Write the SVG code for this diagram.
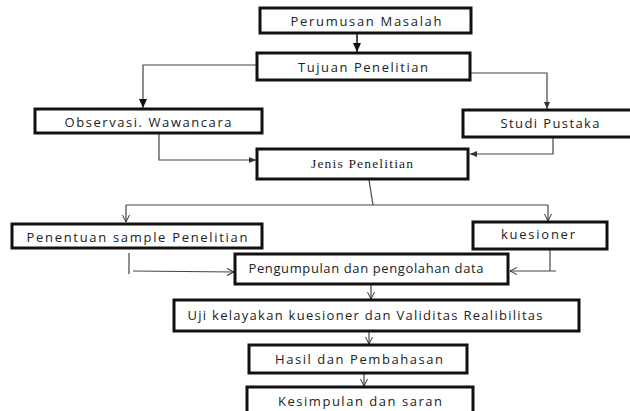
<svg xmlns="http://www.w3.org/2000/svg" width="630" height="411" viewBox="0 0 630 411">
<style>
.box{fill:#fff;stroke:#111;stroke-width:3}
.t{font-family:"Open Sans","Liberation Sans",Arial,sans-serif;font-size:13px;fill:#222;text-anchor:middle;dominant-baseline:central}
.s{font-family:"Liberation Serif","Times New Roman",serif;font-size:13.5px;fill:#222;text-anchor:middle;dominant-baseline:central}
.c{fill:none;stroke:#444;stroke-width:1.2}
</style>
<defs>
<marker id="big" markerUnits="userSpaceOnUse" markerWidth="10" markerHeight="10" refX="9" refY="5" orient="auto">
<path d="M0,1 L9,5 L0,9 Z" fill="#111"/>
</marker>
<marker id="ah" markerUnits="userSpaceOnUse" markerWidth="8" markerHeight="8" refX="7" refY="4" orient="auto">
<path d="M0,1 L7,4 L0,7 Z" fill="#333"/>
</marker>
<marker id="op" markerUnits="userSpaceOnUse" markerWidth="8" markerHeight="8" refX="7" refY="4" orient="auto">
<path d="M0,0.5 L7,4 L0,7.5" fill="none" stroke="#333" stroke-width="1"/>
</marker>
</defs>
<g id="connectors">
<line class="c" x1="357" y1="33" x2="357" y2="52" marker-end="url(#big)" style="stroke:#111;stroke-width:1.5"/>
<polyline class="c" points="257,65 143,65 143,108" marker-end="url(#big)"/>
<polyline class="c" points="471,73 547,73 547,109" marker-end="url(#ah)"/>
<polyline class="c" points="159,134 159,160 256,160" marker-end="url(#ah)"/>
<polyline class="c" points="553,138 553,154 470,154" marker-end="url(#ah)"/>
<line class="c" x1="369" y1="180" x2="373" y2="205"/>
<line class="c" x1="126" y1="205" x2="548" y2="205"/>
<line class="c" x1="126" y1="205" x2="126" y2="222" marker-end="url(#op)"/>
<line class="c" x1="548" y1="205" x2="548" y2="221" marker-end="url(#op)"/>
<line class="c" x1="129" y1="253" x2="129" y2="274"/>
<line class="c" x1="133" y1="271" x2="234" y2="272" marker-end="url(#op)"/>
<line class="c" x1="550" y1="248" x2="550" y2="271"/>
<line class="c" x1="556" y1="271" x2="510" y2="271" marker-end="url(#op)"/>
<line class="c" x1="371" y1="285" x2="371" y2="299" marker-end="url(#op)"/>
<line class="c" x1="369" y1="332" x2="369" y2="344" marker-end="url(#op)"/>
<line class="c" x1="364" y1="374" x2="364" y2="386" marker-end="url(#op)"/>
</g>
<g id="perumusan"><rect class="box" x="260" y="8" width="211" height="25"/><text class="t" x="366" y="21" textLength="151" lengthAdjust="spacing">Perumusan Masalah</text></g>
<g id="tujuan"><rect class="box" x="257" y="53" width="213" height="27"/><text class="t" x="363" y="67" textLength="130" lengthAdjust="spacing">Tujuan Penelitian</text></g>
<g id="observasi"><rect class="box" x="35" y="109" width="227" height="24"/><text class="t" x="148" y="122" textLength="167" lengthAdjust="spacing">Observasi. Wawancara</text></g>
<g id="studi"><rect class="box" x="463" y="110" width="172" height="27"/><text class="t" x="550" y="123" textLength="99" lengthAdjust="spacing">Studi Pustaka</text></g>
<g id="jenis"><rect class="box" x="257" y="149" width="211" height="30"/><text class="s" x="362" y="163" textLength="102" lengthAdjust="spacing">Jenis Penelitian</text></g>
<g id="penentuan"><rect class="box" x="12" y="224" width="250" height="24"/><text class="t" x="137" y="237" textLength="221" lengthAdjust="spacing">Penentuan sample Penelitian</text></g>
<g id="kuesioner"><rect class="box" x="473" y="222" width="134" height="27"/><text class="t" x="538" y="234" textLength="74" lengthAdjust="spacing">kuesioner</text></g>
<g id="pengumpulan"><rect class="box" x="235" y="254" width="273" height="30"/><text class="t" x="366" y="268" textLength="235" lengthAdjust="spacing">Pengumpulan dan pengolahan data</text></g>
<g id="uji"><rect class="box" x="174" y="300" width="405" height="31"/><text class="t" x="365" y="315" textLength="355" lengthAdjust="spacing">Uji kelayakan kuesioner dan Validitas Realibilitas</text></g>
<g id="hasil"><rect class="box" x="249" y="345" width="218" height="28"/><text class="t" x="359" y="359" textLength="168" lengthAdjust="spacing">Hasil dan Pembahasan</text></g>
<g id="kesimpulan"><rect class="box" x="247" y="387" width="226" height="30"/><text class="t" x="360" y="401" textLength="164" lengthAdjust="spacing">Kesimpulan dan saran</text></g>
</svg>
